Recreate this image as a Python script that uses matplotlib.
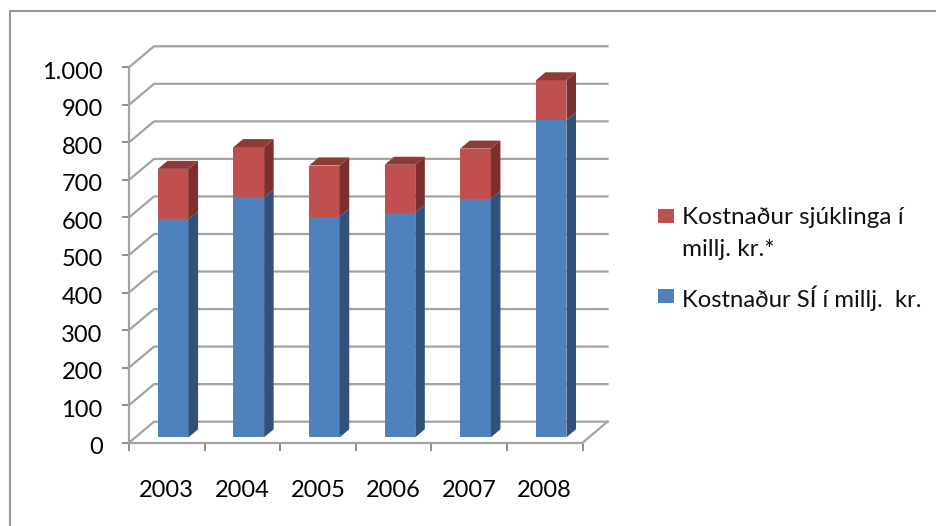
# -*- coding: utf-8 -*-
import numpy as np
import matplotlib
matplotlib.use('Agg')
import matplotlib.pyplot as plt
from matplotlib.patches import Rectangle
from matplotlib.transforms import ScaledTranslation

plt.rcParams['font.family'] = ['Lato', 'DejaVu Sans']

years = ['2003', '2004', '2005', '2006', '2007', '2008']
si_cost = [581, 639, 588, 598, 635, 844]
patient_cost = [134, 134, 136, 128, 134, 107]
y_ticks = [0, 100, 200, 300, 400, 500, 600, 700, 800, 900, 1000]
y_labels = ['0', '100', '200', '300', '400', '500', '600', '700', '800', '900', '1.000']

W, H = 936, 526
# 3d look, all in data units of the front plane
DX = 25 / 75.5
DY = 21 / 0.375
BAR_W = 30.6 / 75.5
BAR_D0 = 0.257
BAR_D1 = 0.638

GRID = '#a3a3a3'
BLUE, BLUE_SIDE = '#4f81bd', '#30527a'
RED, RED_SIDE, RED_TOP = '#c0504d', '#7c302e', '#8e3a38'

fig = plt.figure(figsize=(W / 100, H / 100), dpi=100)
ax = fig.add_axes([129.0 / W, 1 - 442.7 / H, 453.5 / W, 375.4 / H])
ax.set_xlim(0, 6)
ax.set_ylim(0, 1000)
ax.patch.set_visible(False)

# chart frame
fig.add_artist(plt.Line2D([9.5 / W, 9.5 / W, 1], [0, 1 - 10.5 / H, 1 - 10.5 / H], color='#969696', lw=1.5))

# walls
for t in y_ticks:
    ax.plot([0, DX, 6 + DX], [t, t + DY, t + DY], color=GRID, lw=1.6, clip_on=False, zorder=1)
ax.plot([6, 6 + DX], [0, DY], color=GRID, lw=1.6, clip_on=False, zorder=1)


def box(x, y0, y1, front, side, top=None):
    xl = x - BAR_W / 2 + BAR_D0 * DX
    xr = x + BAR_W / 2 + BAR_D0 * DX
    dx = (BAR_D1 - BAR_D0) * DX
    dy = (BAR_D1 - BAR_D0) * DY
    base = BAR_D0 * DY
    ax.bar(xl + BAR_W / 2, y1 - y0, BAR_W, bottom=y0 + base, color=front, lw=0, zorder=3)
    ax.fill([xr, xr + dx, xr + dx, xr],
            [y0 + base, y0 + base + dy, y1 + base + dy, y1 + base], color=side, lw=0, zorder=3)
    if top:
        ax.fill([xl, xr, xr + dx, xl + dx],
                [y1 + base, y1 + base, y1 + base + dy, y1 + base + dy], color=top, lw=0, zorder=3)


for i in range(len(years)):
    box(i + 0.5, 0, si_cost[i], BLUE, BLUE_SIDE)
    box(i + 0.5, si_cost[i], si_cost[i] + patient_cost[i], RED, RED_SIDE, RED_TOP)

for s in ['top', 'right']:
    ax.spines[s].set_visible(False)
for s in ['left', 'bottom']:
    ax.spines[s].set_color(GRID)
    ax.spines[s].set_linewidth(1.6)
    ax.spines[s].set_zorder(2)

ax.set_yticks(y_ticks)
ax.set_yticklabels(y_labels, fontsize=17, color='black')
ax.tick_params(axis='y', length=5, width=1.4, color='#8c8c8c', pad=14)
# labels sit a bit under their ticks in the original
for lab in ax.get_yticklabels():
    lab.set_transform(lab.get_transform() + ScaledTranslation(0, -3 / 100, fig.dpi_scale_trans))
ax.set_xticks(range(7))
ax.set_xticklabels([])
ax.set_xticks(np.arange(6) + 0.5, minor=True)
ax.set_xticklabels(years, minor=True, fontsize=17, color='black')
ax.tick_params(axis='x', which='major', length=5.5, width=1.4, color='#8c8c8c')
ax.tick_params(axis='x', which='minor', length=0, pad=26.5)

# legend, swatch sits on first text line
fig.add_artist(Rectangle((658.3 / W, 1 - 222.7 / H), 15.7 / W, 13.7 / H, color=RED, lw=0,
                         transform=fig.transFigure))
fig.add_artist(Rectangle((658.3 / W, 1 - 303 / H), 15.7 / W, 13.7 / H, color=BLUE, lw=0,
                         transform=fig.transFigure))
fig.text(682.5 / W, 1 - 218 / H, 'Kostnaður sjúklinga í', fontsize=17.5, color='#111111', va='center')
fig.text(682.5 / W, 1 - 250 / H, 'millj. kr.*', fontsize=17.5, color='#111111', va='center')
fig.text(682.5 / W, 1 - 298 / H, 'Kostnaður SÍ í millj.  kr.', fontsize=17.2, color='#111111', va='center')

plt.savefig('out.png', dpi=100)
